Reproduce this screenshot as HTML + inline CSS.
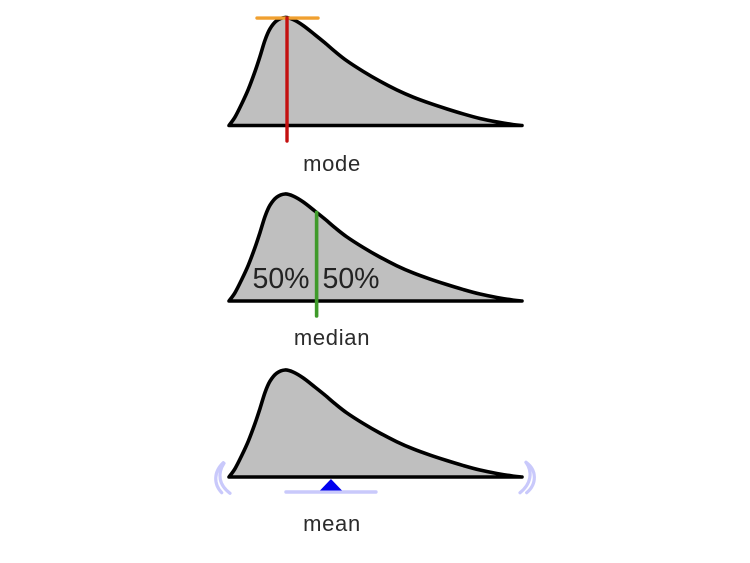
<!DOCTYPE html>
<html lang="en">
<head>
<meta charset="utf-8">
<title>Mode, median and mean of a skewed distribution</title>
<style>
  html, body { margin: 0; padding: 0; background: #fff; }
  #chart { display: block; width: 750px; height: 563px; filter: blur(0.35px); }
  .lbl { font-family: "Liberation Sans", sans-serif; font-size: 22px; fill: #2b2b2b; text-anchor: middle; letter-spacing: 0.7px; }
  .pct { font-family: "Liberation Sans", sans-serif; font-size: 28.5px; fill: #222; text-anchor: middle; }
</style>
</head>
<body>
<svg id="chart" xmlns="http://www.w3.org/2000/svg" width="750" height="563" viewBox="0 0 750 563">
  <g id="panel-mode"></g>
  <g id="panel-median"></g>
  <g id="panel-mean"></g>
  <text class="lbl" x="332" y="171">mode</text>
  <text class="pct" x="281" y="288">50%</text>
  <text class="pct" x="351" y="288">50%</text>
  <text class="lbl" x="332" y="345">median</text>
  <text class="lbl" x="332" y="531">mean</text>
</svg>
<script>
// Values (x in percent of the range, density relative to the peak)
const xValues = [0, 2.05, 4.33, 6.59, 8.87, 10.58, 12.29, 13.99, 16.28, 19.11, 21.95, 25.36, 29.35, 32.76, 36.18, 40.17, 45.84, 51.54, 57.24, 62.9, 68.6, 74.3, 79.97, 85.66, 91.4, 97.03, 100];
const densityValues = [0, 0.078, 0.2, 0.335, 0.5, 0.64, 0.79, 0.895, 0.97, 1, 0.98, 0.925, 0.84, 0.765, 0.685, 0.6, 0.5, 0.41, 0.33, 0.262, 0.205, 0.154, 0.107, 0.065, 0.033, 0.008, 0];
const modeValue = 19.8;
const medianValue = 29.9;
const meanValue = 34.8;

const NS = 'http://www.w3.org/2000/svg';
const xLeft = 229, xWidth = 293;
function xScale(v) { return xLeft + v / 100 * xWidth; }
function yScale(d, baseline, height) { return baseline - d * height; }

function densityAt(x) {
  for (let i = 1; i < xValues.length; i++) {
    if (x <= xValues[i]) {
      const t = (x - xValues[i - 1]) / (xValues[i] - xValues[i - 1]);
      return densityValues[i - 1] + t * (densityValues[i] - densityValues[i - 1]);
    }
  }
  return 0;
}

function curvePath(baseline, height) {
  const pts = xValues.map((x, i) => [xScale(x), yScale(densityValues[i], baseline, height)]);
  let d = 'M' + pts[0][0] + ' ' + pts[0][1];
  for (let i = 0; i < pts.length - 1; i++) {
    const p0 = pts[Math.max(i - 1, 0)], p1 = pts[i], p2 = pts[i + 1], p3 = pts[Math.min(i + 2, pts.length - 1)];
    const c1x = p1[0] + (p2[0] - p0[0]) / 6, c1y = p1[1] + (p2[1] - p0[1]) / 6;
    const c2x = p2[0] - (p3[0] - p1[0]) / 6, c2y = p2[1] - (p3[1] - p1[1]) / 6;
    d += 'C' + c1x.toFixed(2) + ' ' + c1y.toFixed(2) + ' ' + c2x.toFixed(2) + ' ' + c2y.toFixed(2) + ' ' + p2[0].toFixed(2) + ' ' + p2[1].toFixed(2);
  }
  return d;
}

function drawCurve(group, baseline, height) {
  const fill = document.createElementNS(NS, 'path');
  fill.setAttribute('d', curvePath(baseline, height) + 'Z');
  fill.setAttribute('fill', '#bfbfbf');
  fill.setAttribute('stroke', '#000');
  fill.setAttribute('stroke-width', '3.6');
  fill.setAttribute('stroke-linejoin', 'round');
  
  
  group.appendChild(fill);
}

function drawLine(group, x1, y1, x2, y2, color, width) {
  const line = document.createElementNS(NS, 'line');
  line.setAttribute('x1', x1);
  line.setAttribute('y1', y1);
  line.setAttribute('x2', x2);
  line.setAttribute('y2', y2);
  line.setAttribute('stroke', color);
  line.setAttribute('stroke-width', width);
  line.setAttribute('stroke-linecap', 'round');
  
  
  group.appendChild(line);
}

// Mode panel
const modeGroup = document.getElementById('panel-mode');
const modeBase = 125.5, modeHeight = 108;
drawCurve(modeGroup, modeBase, modeHeight);
const modeX = xScale(modeValue);
const modeTop = yScale(densityAt(modeValue), modeBase, modeHeight);
drawLine(modeGroup, modeX - 30, modeTop, modeX + 31, modeTop, '#f0a030', 3.4);
drawLine(modeGroup, modeX, modeTop, modeX, 141, '#c41010', 3.4);

// Median panel
const medianGroup = document.getElementById('panel-median');
const medianBase = 301, medianHeight = 107;
drawCurve(medianGroup, medianBase, medianHeight);
const medianX = xScale(medianValue);
drawLine(medianGroup, medianX, yScale(densityAt(medianValue), medianBase, medianHeight), medianX, 316, '#3f9a2a', 3.6);

// Mean panel
const meanGroup = document.getElementById('panel-mean');
const meanBase = 477, meanHeight = 107;
drawCurve(meanGroup, meanBase, meanHeight);
const meanX = xScale(meanValue);
drawLine(meanGroup, meanX - 45, 492, meanX + 45, 492, '#c9c9fb', 3.4);

const fulcrum = document.createElementNS(NS, 'polygon');
fulcrum.setAttribute('points', meanX + ',479 ' + (meanX + 11) + ',490.5 ' + (meanX - 11) + ',490.5');
fulcrum.setAttribute('fill', '#0000ee');


meanGroup.appendChild(fulcrum);

const wobbleArcs = [
  'M223.3 462.7C213.5 472 213.5 484 221.7 492.7',
  'M224 463.3C217 474 219 485 230 493.3',
  'M526 462.3C537 470 537 484 526.7 492.7',
  'M526 462.3C533 472 531 484 520 492.7'
];
wobbleArcs.forEach(function (d) {
  const arc = document.createElementNS(NS, 'path');
  arc.setAttribute('d', d);
  arc.setAttribute('fill', 'none');
  arc.setAttribute('stroke', '#c9c9fb');
  arc.setAttribute('stroke-width', '3.2');
  arc.setAttribute('stroke-linecap', 'round');
  
  
  meanGroup.appendChild(arc);
});
</script>
</body>
</html>
